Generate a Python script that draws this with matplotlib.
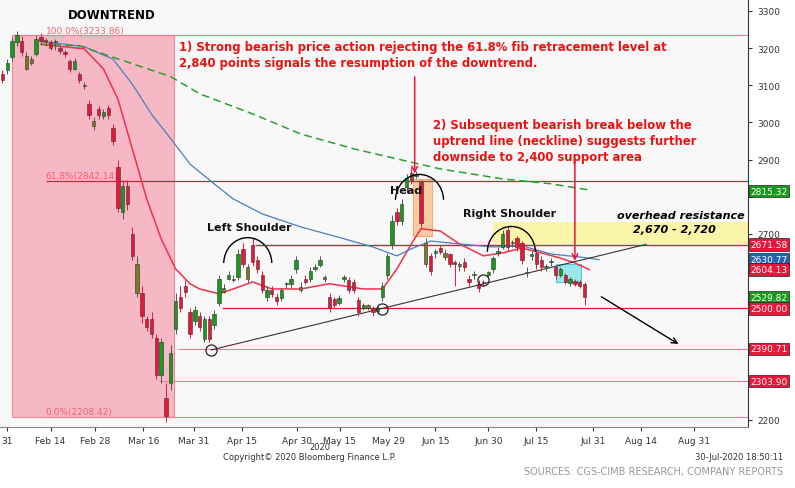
import numpy as np
import matplotlib
matplotlib.use("Agg")
import matplotlib.pyplot as plt
from matplotlib.patches import Rectangle, Arc

opens = [3130,3140,3175,3215,3220,3145,3160,3185,3230,3222,3215,3215,3200,3190,3165,3145,3130,3098,3050,2990,
         3035,3018,3040,2985,2880,2760,2830,2700,2540,2540,2470,2470,2420,2320,2260,2300,2445,2530,2560,2490,
         2465,2480,2418,2472,2455,2515,2545,2580,2575,2585,2660,2580,2670,2630,2590,2530,2550,2530,2528,2565,
         2565,2605,2550,2580,2578,2605,2616,2580,2530,2525,2515,2580,2575,2570,2522,2500,2502,2500,2493,2530,
         2590,2673,2760,2735,2825,2865,2856,2840,2618,2640,2650,2662,2638,2645,2625,2615,2625,2580,2590,2566,
         2570,2590,2605,2650,2665,2710,2675,2690,2675,2595,2640,2650,2630,2610,2625,2610,2590,2590,2568,2573,
         2570,2565]
closes = [3115,3160,3220,3235,3190,3180,3170,3225,3220,3215,3200,3218,3192,3184,3145,3165,3115,3098,3020,3005,
          3020,3028,3020,2950,2770,2830,2780,2640,2620,2480,2450,2430,2320,2410,2210,2380,2520,2500,2545,2430,
          2495,2450,2472,2418,2485,2580,2555,2590,2580,2645,2620,2610,2625,2605,2550,2550,2538,2520,2550,2565,
          2580,2630,2558,2572,2600,2612,2630,2580,2500,2510,2528,2580,2550,2548,2490,2510,2508,2490,2500,2560,
          2640,2735,2735,2780,2850,2845,2860,2730,2675,2600,2650,2652,2650,2618,2620,2615,2610,2570,2590,2555,
          2568,2597,2635,2655,2700,2665,2675,2665,2630,2595,2645,2620,2610,2610,2625,2590,2605,2570,2580,2565,
          2560,2530]
highs = [3140,3170,3230,3245,3232,3190,3180,3235,3240,3228,3222,3225,3205,3195,3170,3172,3135,3110,3060,3015,
         3045,3035,3048,2995,2900,2845,2845,2720,2640,2560,2480,2490,2430,2420,2300,2400,2540,2560,2575,2500,
         2505,2490,2480,2480,2495,2590,2565,2600,2590,2660,2675,2620,2690,2640,2600,2560,2560,2540,2555,2570,
         2590,2640,2570,2590,2610,2620,2640,2590,2540,2530,2535,2590,2585,2580,2530,2515,2512,2505,2505,2570,
         2650,2750,2770,2795,2860,2880,2870,2845,2690,2650,2660,2670,2660,2650,2630,2625,2635,2590,2600,2575,
         2575,2600,2640,2665,2710,2720,2685,2695,2680,2610,2655,2660,2640,2620,2635,2615,2610,2595,2585,2580,
         2575,2570]
lows = [3105,3130,3165,3205,3180,3140,3155,3180,3210,3205,3195,3195,3185,3175,3135,3140,3105,3090,3010,2980,
        3010,3010,3010,2940,2760,2740,2765,2630,2530,2460,2440,2420,2310,2300,2195,2280,2430,2490,2530,2420,
        2455,2440,2410,2410,2445,2505,2540,2575,2570,2575,2610,2570,2615,2595,2540,2520,2530,2510,2520,2555,
        2555,2595,2545,2565,2570,2600,2610,2570,2490,2500,2510,2570,2540,2540,2480,2495,2495,2480,2485,2520,
        2580,2660,2725,2725,2810,2835,2850,2720,2610,2590,2635,2645,2630,2610,2560,2600,2600,2560,2580,2545,
        2560,2585,2595,2640,2660,2655,2665,2655,2620,2585,2630,2605,2600,2600,2615,2580,2585,2565,2560,2560,
        2555,2510]
ma_fast_idx = [8,17,21,24,27,30,33,36,39,41,45,48,52,56,62,68,75,79,82,85,87,91,95,100,104,108,112,116,119,122]
ma_fast_val = [3210,3198,3144,3063,2929,2794,2687,2606,2566,2552,2539,2552,2571,2552,2552,2566,2552,2552,2606,
               2673,2714,2708,2673,2641,2649,2662,2649,2635,2622,2604]
ma_mid_idx = [8,17,23,27,31,35,39,44,48,54,62,71,77,82,85,89,95,102,108,114,120,124]
ma_mid_val = [3218,3204,3170,3103,3022,2956,2888,2835,2794,2754,2719,2687,2665,2641,2660,2681,2673,2665,2668,
              2646,2638,2631]
ma200_idx = [8, 16, 35, 41, 52, 62, 73, 82, 91, 104, 114, 122]
ma200_val = [3210, 3206, 3123, 3077, 3023, 2969, 2929, 2902, 2875, 2848, 2835, 2818]
tick_pos = [1, 10, 19.3, 29.3, 39.8, 49.8, 61.2, 70.1, 80.3, 90, 101, 111, 122.8, 132.8, 143.8]
tick_lab = ["31", "Feb 14", "Feb 28", "Mar 16", "Mar 31", "Apr 15", "Apr 30", "May 15", "May 29",
            "Jun 15", "Jun 30", "Jul 15", "Jul 31", "Aug 14", "Aug 31"]
ytick_vals = [2200, 2300, 2400, 2500, 2600, 2700, 2800, 2900, 3000, 3100, 3200, 3300]
ytick_labs = ["2200", "", "", "", "", "2700", "", "2900", "3000", "3100", "3200", "3300"]
tags = [(2815.32, "#1a9a1a"), (2671.58, "#e8173a"), (2630.77, "#2464b4"), (2604.13, "#e8173a"),
        (2529.82, "#1a9a1a"), (2500.00, "#e8173a"), (2390.71, "#e8173a"), (2303.90, "#e8173a")]

o = np.array(opens, float); c = np.array(closes, float)
h = np.array(highs, float); l = np.array(lows, float)
n = len(c)

fig = plt.figure(figsize=(7.95, 4.89), dpi=100)
fig.patch.set_facecolor("white")
ax = fig.add_axes([0.0, 0.125, 0.941, 0.875])
ax.set_facecolor("#f8f8f8")
ax.set_xlim(-0.5, 155)
ax.set_ylim(2181, 3332)

RED = "#e8173a"
ax.add_patch(Rectangle((2, 2208.42), 33.7, 3233.86 - 2208.42, facecolor="#f5a3b3", alpha=0.75,
                       edgecolor="#f07080", lw=0.8, zorder=1))
ax.add_patch(Rectangle((85.3, 2695), 4.1, 153, facecolor="#f9c08a", alpha=0.8, edgecolor="#f0a060", lw=0.8, zorder=1))
ax.add_patch(Rectangle((102, 2673), 60, 60, facecolor="#fbf5a0", alpha=0.9, edgecolor="none", zorder=1))
ax.add_patch(Rectangle((115, 2571), 5.2, 49, facecolor="#7fe3e8", alpha=0.8, edgecolor="#40c0d0", lw=0.8, zorder=1))

ax.hlines(3233.86, 2, 155, color="#f08090", lw=0.8, zorder=2)
ax.hlines(2842.14, 9, 155, color=RED, lw=0.9, zorder=2)
ax.hlines(2208.42, 9, 155, color="#f08090", lw=0.8, zorder=2)
ax.hlines(2671.58, 52.5, 155, color=RED, lw=1.0, zorder=2)
ax.hlines(2500, 45.6, 155, color=RED, lw=0.9, zorder=2)
ax.hlines(2390.71, 36.5, 155, color="#f08090", lw=0.8, zorder=2)
ax.hlines(2303.90, 32.5, 155, color="#f08090", lw=0.8, zorder=2)
fs = dict(color="#f06070", fontsize=6.5)
ax.text(9, 3236, "100.0%(3233.86)", va="bottom", **fs)
ax.text(9, 2845, "61.8%(2842.14)", va="bottom", **fs)
ax.text(9, 2211, "0.0%(2208.42)", va="bottom", **fs)

ax.plot(ma_fast_idx, ma_fast_val, color="#f0304a", lw=1.1, zorder=3)
ax.plot(ma_mid_idx, ma_mid_val, color="#4a7ec0", lw=0.9, zorder=3)
ax.plot(ma200_idx, ma200_val, color="#2ca02c", lw=1.1, ls=(0, (5, 3)), zorder=3)

for i in range(n):
    up = c[i] >= o[i]
    prev = c[i - 1] if i > 0 else o[i]
    col = ("#1a9a1a" if c[i] >= prev else "#7a7a20") if up else RED
    ax.vlines(i, l[i], h[i], color="#555555" if up else RED, lw=0.7, zorder=4)
    lo, hi = min(o[i], c[i]), max(o[i], c[i])
    ax.add_patch(Rectangle((i - 0.35, lo), 0.7, max(hi - lo, 3), facecolor=col,
                           edgecolor="#333333", lw=0.4, zorder=5))

ax.plot([43.4, 133.8], [2388, 2672], color="#333333", lw=0.8, zorder=3)
for cx, cy in [(43.4, 2388), (79, 2497), (100, 2575)]:
    ax.plot(cx, cy, "o", ms=8, mfc="none", mec="#222222", mew=0.9, zorder=6)
for cx, cy in [(51, 2620), (86.7, 2790), (105.8, 2650)]:
    ax.add_patch(Arc((cx, cy), 10, 140, theta1=20, theta2=160, color="black", lw=1, zorder=6))

ax.annotate("", xy=(85.7, 2855), xytext=(85.7, 3130),
            arrowprops=dict(arrowstyle="->", color=RED, lw=1.1))
ax.annotate("", xy=(119, 2620), xytext=(119, 2910),
            arrowprops=dict(arrowstyle="->", color=RED, lw=1.1))
ax.annotate("", xy=(141, 2400), xytext=(124, 2535),
            arrowprops=dict(arrowstyle="->", color="black", lw=1.0))

ax.text(22.8, 3290, "DOWNTREND", fontsize=8.5, fontweight="bold", ha="center", va="center")
red_t = dict(color="#ee1111", fontsize=8.4, fontweight="bold", ha="left", va="center")
ax.text(36.7, 3205, "1) Strong bearish price action rejecting the 61.8% fib retracement level at", **red_t)
ax.text(36.7, 3162, "2,840 points signals the resumption of the downtrend.", **red_t)
ax.text(89.6, 2995, "2) Subsequent bearish break below the", **red_t)
ax.text(89.6, 2952, "uptrend line (neckline) suggests further", **red_t)
ax.text(89.6, 2909, "downside to 2,400 support area", **red_t)
bt = dict(fontsize=8, fontweight="bold", ha="left", va="center", color="#111111", zorder=8)
ax.text(42.5, 2720, "Left Shoulder", **bt)
ax.text(80.5, 2818, "Head", **bt)
ax.text(95.8, 2755, "Right Shoulder", **bt)
ax.text(127.7, 2750, "overhead resistance", fontsize=8, fontweight="bold", style="italic", ha="left", va="center")
ax.text(131, 2712, "2,670 - 2,720", fontsize=8, fontweight="bold", style="italic", ha="left", va="center")

ax.yaxis.tick_right()
ax.set_yticks(ytick_vals)
ax.set_yticklabels(ytick_labs)
ax.tick_params(axis="y", labelsize=6.5, direction="out", length=3, colors="#333333")
ax.set_xticks(tick_pos)
ax.set_xticklabels(tick_lab)
ax.tick_params(axis="x", labelsize=6.5, length=3, colors="#333333")
for s in ["top", "left"]:
    ax.spines[s].set_visible(False)
ax.spines["right"].set_color("#333333")
ax.spines["bottom"].set_color("#888888")

for v, col in tags:
    ax.text(1.003, v, f"{v:.2f}", transform=ax.get_yaxis_transform(), fontsize=6.5, color="white",
            ha="left", va="center", clip_on=False, zorder=10,
            bbox=dict(boxstyle="square,pad=0.2", facecolor=col, edgecolor="#222222", lw=0.5))

fig.text(320 / 795, 1 - 448 / 489, "2020", fontsize=6, ha="center", va="center", color="#333333")
fig.text(310 / 795, 1 - 458 / 489, "Copyright\u00a9 2020 Bloomberg Finance L.P.", fontsize=6, ha="center", va="center", color="#333333")
fig.text(783 / 795, 1 - 458 / 489, "30-Jul-2020 18:50:11", fontsize=6, ha="right", va="center", color="#333333")
fig.text(783 / 795, 1 - 472 / 489, "SOURCES: CGS-CIMB RESEARCH, COMPANY REPORTS", fontsize=7, ha="right", va="center", color="#999999")

fig.savefig("out.png", dpi=100)
